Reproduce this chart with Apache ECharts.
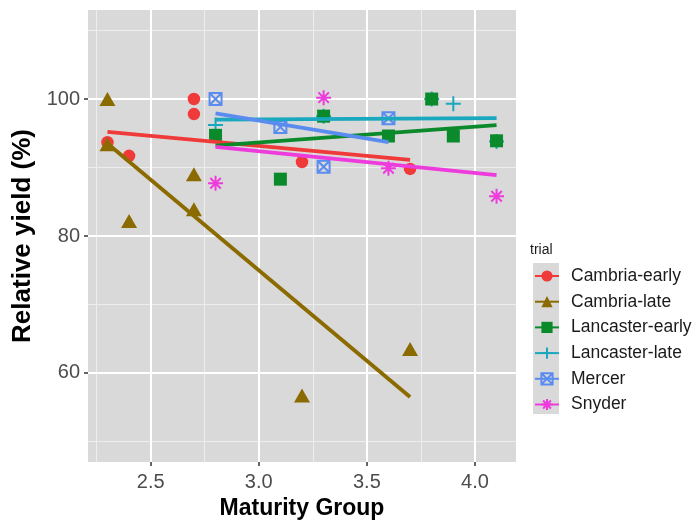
<!DOCTYPE html>
<html>
<head>
<meta charset="utf-8">
<script src="https://cdn.jsdelivr.net/npm/echarts@6/dist/echarts.min.js"></script>
<style>html,body{margin:0;padding:0;background:#fff;}#chart{width:692px;height:521px;}</style>
</head>
<body>
<div id="chart"></div>
<script>
// ---- data ----
const trials = ['Cambria-early', 'Cambria-late', 'Lancaster-early', 'Lancaster-late', 'Mercer', 'Snyder'];

const cambriaEarlyX = [2.3, 2.4, 2.7, 2.7, 3.2, 3.7];
const cambriaEarlyY = [93.7, 91.7, 100.0, 97.8, 90.8, 89.8];
const cambriaLateX = [2.3, 2.3, 2.4, 2.7, 2.7, 3.2, 3.7];
const cambriaLateY = [100.0, 93.4, 82.2, 89.0, 83.9, 56.7, 63.5];
const lancasterEarlyX = [2.8, 3.1, 3.3, 3.6, 3.8, 3.9, 4.1];
const lancasterEarlyY = [94.7, 88.3, 97.5, 94.6, 100.0, 94.6, 93.9];
const lancasterLateX = [2.8, 3.3, 3.8, 3.9, 4.1];
const lancasterLateY = [96.2, 97.5, 100.0, 99.3, 93.8];
const mercerX = [2.8, 3.1, 3.3, 3.6];
const mercerY = [100.0, 95.9, 90.1, 97.2];
const snyderX = [2.8, 3.3, 3.6, 4.1];
const snyderY = [87.7, 100.2, 89.9, 85.8];

// fitted (lm) trend lines: start/end per trial, same order as trials
const fitX0 = [2.3, 2.3, 2.8, 2.8, 2.8, 2.8];
const fitY0 = [95.2, 93.5, 93.2, 97.0, 97.9, 93.0];
const fitX1 = [3.7, 3.7, 4.1, 4.1, 3.6, 4.1];
const fitY1 = [91.1, 56.5, 96.2, 97.2, 93.7, 88.9];

// axis ticks
const xTicks = [2.5, 3.0, 3.5, 4.0];
const xMinor = [2.25, 2.75, 3.25, 3.75];
const yTicks = [60, 80, 100];
const yMinor = [50, 70, 90, 110];

// ---- styling ----
const FONT = '"Liberation Sans", Arial, Helvetica, sans-serif';
const colors = ['#F03A3A', '#8B6B00', '#0B8A2B', '#19A8BE', '#5A8CF0', '#EE3CDC'];
const pointsX = [cambriaEarlyX, cambriaLateX, lancasterEarlyX, lancasterLateX, mercerX, snyderX];
const pointsY = [cambriaEarlyY, cambriaLateY, lancasterEarlyY, lancasterLateY, mercerY, snyderY];
const shapes = [
  {symbol: 'circle', size: 12.5, stroke: false},
  {symbol: 'triangle', size: [16, 14], stroke: false},
  {symbol: 'rect', size: 13, stroke: false},
  {symbol: 'path://M0,5L10,5M5,0L5,10', size: 15, stroke: true},
  {symbol: 'path://M0,0L10,0L10,10L0,10Z M0,0L10,10 M10,0L0,10', size: 12, stroke: true},
  {symbol: 'path://M5,0L5,10 M0,5L10,5 M1.5,1.5L8.5,8.5 M8.5,1.5L1.5,8.5', size: 15, stroke: true}
];
// drawing order of points (teal drawn under green)
const drawOrder = [0, 1, 3, 2, 4, 5];

function itemStyleFor(i) {
  return shapes[i].stroke
    ? {color: 'rgba(0,0,0,0)', borderColor: colors[i], borderWidth: 2, opacity: 1}
    : {color: colors[i], borderWidth: 0, opacity: 1};
}

const series = [];
// trend lines first (legend icons taken from these)
trials.forEach((name, i) => {
  series.push({
    type: 'line', name: name,
    data: [[fitX0[i], fitY0[i]], [fitX1[i], fitY1[i]]],
    symbol: shapes[i].symbol, symbolSize: shapes[i].size, showSymbol: false,
    lineStyle: {color: colors[i], width: 3.8},
    itemStyle: itemStyleFor(i),
    z: 5, silent: true, animation: false
  });
});
// grid lines
const gridLines = [];
xMinor.forEach(v => gridLines.push({xAxis: v, lineStyle: {color: '#EDEDED', width: 1, type: 'solid'}}));
yMinor.forEach(v => gridLines.push({yAxis: v, lineStyle: {color: '#EDEDED', width: 1, type: 'solid'}}));
xTicks.forEach(v => gridLines.push({xAxis: v, lineStyle: {color: '#FFFFFF', width: 2, type: 'solid'}}));
yTicks.forEach(v => gridLines.push({yAxis: v, lineStyle: {color: '#FFFFFF', width: 2, type: 'solid'}}));
series.push({
  type: 'scatter', name: '__grid', data: [], z: 1, silent: true,
  markLine: {silent: true, symbol: ['none', 'none'], label: {show: false}, z: 1, animation: false, data: gridLines}
});
// points
drawOrder.forEach(i => {
  series.push({
    type: 'scatter', name: trials[i],
    data: pointsX[i].map((x, k) => [x, pointsY[i][k]]),
    symbol: shapes[i].symbol, symbolSize: shapes[i].size,
    itemStyle: itemStyleFor(i),
    z: 2 + drawOrder.indexOf(i) * 0.01, silent: true, animation: false
  });
});

const chart = echarts.init(document.getElementById('chart'), null, {renderer: 'canvas'});
chart.setOption({
  animation: false,
  backgroundColor: '#FFFFFF',
  textStyle: {fontFamily: FONT},
  title: {
    text: 'trial', left: 530, top: 243, padding: 0,
    textStyle: {fontSize: 14, fontWeight: 'normal', color: '#1A1A1A', fontFamily: FONT}
  },
  graphic: [{
    type: 'rect', left: 533, top: 263, z: 0,
    shape: {width: 26, height: 151},
    style: {fill: '#D9D9D9'}
  }],
  legend: {
    orient: 'vertical', left: 529, top: 262,
    itemWidth: 24, itemHeight: 14, itemGap: 7.7,
    selectedMode: false, data: trials,
    textStyle: {fontSize: 17.5, color: '#1A1A1A', lineHeight: 16, padding: [0, 0, 0, 7], fontFamily: FONT}
  },
  grid: {
    left: 88, right: 176, top: 10, bottom: 59,
    outerBoundsMode: 'none', containLabel: false,
    show: true, backgroundColor: '#D9D9D9', borderWidth: 0
  },
  xAxis: {
    type: 'value', min: 2.21, max: 4.19,
    name: 'Maturity Group', nameLocation: 'middle', nameGap: 34,
    nameTextStyle: {fontSize: 23, fontWeight: 'bold', color: '#000', fontFamily: FONT},
    axisLine: {show: false},
    axisTick: {show: true, length: 4, customValues: xTicks, lineStyle: {color: '#333', width: 1.5}},
    axisLabel: {customValues: xTicks, formatter: v => v.toFixed(1), fontSize: 20, color: '#4D4D4D', margin: 10, fontFamily: FONT},
    splitLine: {show: false}
  },
  yAxis: {
    type: 'value', min: 47, max: 113,
    name: 'Relative yield (%)', nameLocation: 'middle', nameGap: 43, nameRotate: 90,
    nameTextStyle: {fontSize: 26, fontWeight: 'bold', color: '#000', fontFamily: FONT},
    axisLine: {show: false},
    axisTick: {show: true, length: 4, customValues: yTicks, lineStyle: {color: '#333', width: 1.5}},
    axisLabel: {customValues: yTicks, fontSize: 20, color: '#4D4D4D', margin: 8, fontFamily: FONT},
    splitLine: {show: false}
  },
  series: series
});
</script>
</body>
</html>
